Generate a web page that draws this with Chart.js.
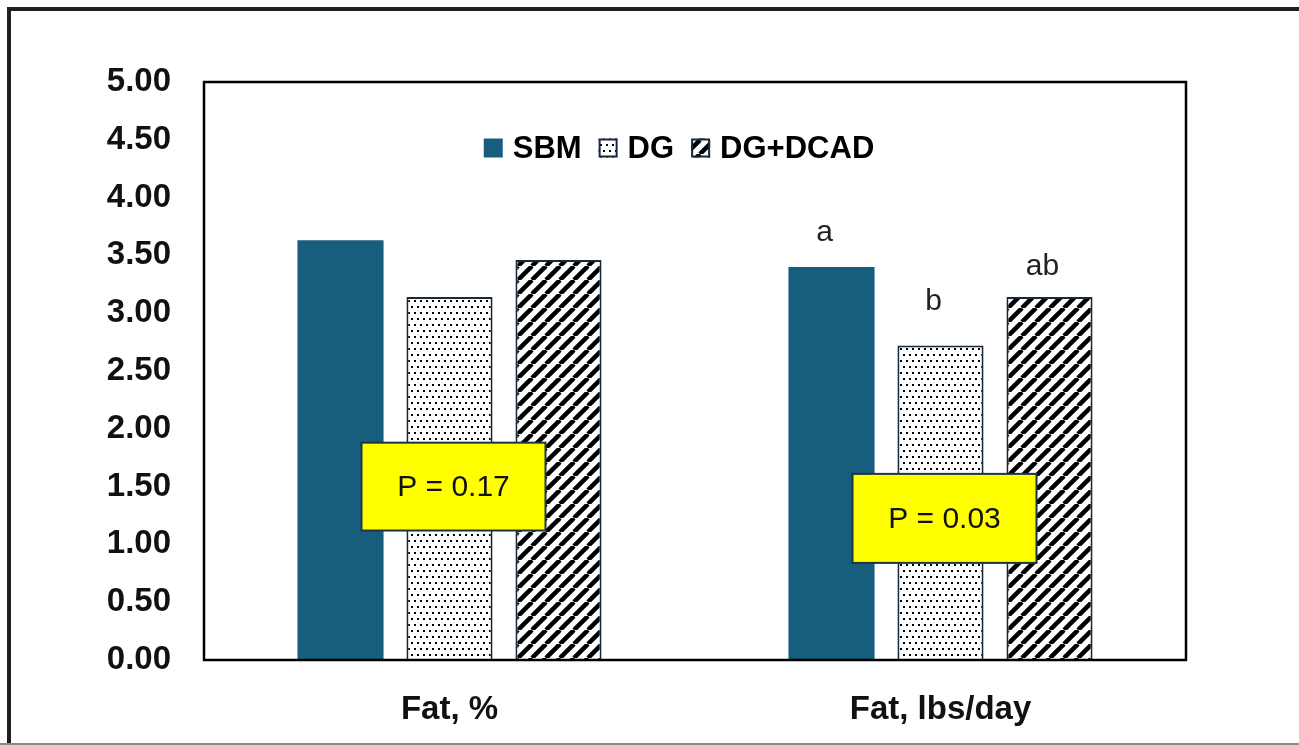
<!DOCTYPE html>
<html>
<head>
<meta charset="utf-8">
<script src="https://cdn.jsdelivr.net/npm/chart.js@4.4.1/dist/chart.umd.min.js"></script>
<style>
  html, body { margin: 0; padding: 0; background: #fff; }
  #wrap { width: 1299px; height: 745px; position: relative; }
</style>
</head>
<body>
<div id="wrap"><canvas id="chart"></canvas></div>
<script>
const categories = ['Fat, %', 'Fat, lbs/day'];
const seriesNames = ['SBM', 'DG', 'DG+DCAD'];
const sbmValues = [3.63, 3.40];
const dgValues = [3.14, 2.72];
const dcadValues = [3.46, 3.14];
const yTicks = [0, 0.5, 1, 1.5, 2, 2.5, 3, 3.5, 4, 4.5, 5];
const pLabels = ['P = 0.17', 'P = 0.03'];
const sigLetters = [['', '', ''], ['a', 'b', 'ab']];

const FONT = '"Liberation Sans", Arial, sans-serif';
const SBM_BLUE = '#175e7e';
const EDGE = '#16283a';

function dotPattern() {
    const c = document.createElement('canvas');
    c.width = 6; c.height = 12;
    const g = c.getContext('2d');
    g.fillStyle = '#fff';
    g.fillRect(0, 0, 6, 12);
    g.fillStyle = '#000';
    g.fillRect(0, 0, 2, 2);
    g.fillRect(3, 6, 2, 2);
    return g.createPattern(c, 'repeat');
}

function hatchPattern() {
    const s = 14;
    const c = document.createElement('canvas');
    c.width = s; c.height = s;
    const g = c.getContext('2d');
    g.fillStyle = '#fff';
    g.fillRect(0, 0, s, s);
    g.strokeStyle = '#000';
    g.lineWidth = 4.5;
    for (let k = -1; k <= 1; k++) {
        g.beginPath();
        g.moveTo(k * s, s);
        g.lineTo(k * s + s, 0);
        g.stroke();
    }
    return g.createPattern(c, 'repeat');
}

const fills = [SBM_BLUE, dotPattern(), hatchPattern()];

// frame around the whole picture
const framePlugin = {
    id: 'frame',
    beforeDraw(chart) {
        const ctx = chart.ctx;
        ctx.save();
        ctx.fillStyle = '#fff';
        ctx.fillRect(0, 0, chart.width, chart.height);
        ctx.fillStyle = '#231f20';
        ctx.fillRect(7, 7, chart.width - 7, 4);
        ctx.fillRect(7, 7, 4, chart.height - 7);
        ctx.fillStyle = '#8a8a8a';
        ctx.fillRect(0, chart.height - 2, chart.width, 2);
        ctx.restore();
    },
    afterDraw(chart) {
        const a = chart.chartArea;
        const ctx = chart.ctx;
        ctx.save();
        ctx.strokeStyle = '#000';
        ctx.lineWidth = 2.5;
        ctx.strokeRect(a.left, a.top, a.right - a.left, a.bottom - a.top);
        ctx.restore();
    }
};

// legend drawn inside the plot area
const innerLegend = {
    id: 'innerLegend',
    afterDatasetsDraw(chart) {
        const ctx = chart.ctx;
        const ds = chart.data.datasets;
        ctx.save();
        ctx.font = 'bold 31px ' + FONT;
        ctx.textBaseline = 'middle';
        const box = 19, gap = 10, spacing = 17;
        let total = 0;
        ds.forEach((d, i) => {
            total += box + gap + ctx.measureText(d.label).width;
            if (i < ds.length - 1) total += spacing;
        });
        let x = (chart.chartArea.left + chart.chartArea.right) / 2 - total / 2 - 16;
        const y = 148;
        ds.forEach(d => {
            ctx.fillStyle = d.backgroundColor;
            ctx.fillRect(x, y - box / 2, box, box);
            if (d.borderWidth) {
                ctx.strokeStyle = EDGE;
                ctx.lineWidth = 2;
                ctx.strokeRect(x + 1, y - box / 2 + 1, box - 2, box - 2);
            }
            x += box + gap;
            ctx.fillStyle = '#000';
            ctx.fillText(d.label, x, y + 1);
            x += ctx.measureText(d.label).width + spacing;
        });
        ctx.restore();
    }
};

// P value boxes and significance letters
const notes = {
    id: 'notes',
    afterDatasetsDraw(chart, args, opts) {
        const ctx = chart.ctx;
        const xs = chart.scales.x, ys = chart.scales.y;
        ctx.save();
        ctx.font = '30px ' + FONT;
        ctx.textAlign = 'center';
        ctx.textBaseline = 'middle';
        // letters
        sigLetters.forEach((row, ci) => {
            row.forEach((txt, di) => {
                if (!txt) return;
                const bar = chart.getDatasetMeta(di).data[ci];
                ctx.fillStyle = '#222';
                ctx.fillText(txt, bar.x - 7, ys.getPixelForValue(opts.letterY[di]));
            });
        });
        // P boxes
        pLabels.forEach((txt, ci) => {
            const cx = xs.getPixelForValue(ci) + 4;
            const top = ys.getPixelForValue(opts.boxTop[ci]);
            const bot = ys.getPixelForValue(opts.boxBottom[ci]);
            const w = 184;
            ctx.fillStyle = '#ffff00';
            ctx.fillRect(cx - w / 2, top, w, bot - top);
            ctx.strokeStyle = '#1c3446';
            ctx.lineWidth = 2;
            ctx.strokeRect(cx - w / 2, top, w, bot - top);
            ctx.fillStyle = '#111';
            ctx.fillText(txt, cx, (top + bot) / 2 + 1);
        });
        ctx.restore();
    }
};

new Chart(document.getElementById('chart'), {
    type: 'bar',
    data: {
        labels: categories,
        datasets: [
            { label: seriesNames[0], data: sbmValues, backgroundColor: fills[0], borderWidth: 0 },
            { label: seriesNames[1], data: dgValues, backgroundColor: fills[1], borderColor: EDGE, borderWidth: 2 },
            { label: seriesNames[2], data: dcadValues, backgroundColor: fills[2], borderColor: EDGE, borderWidth: 2 }
        ]
    },
    options: {
        responsive: true,
        maintainAspectRatio: false,
        animation: false,
        devicePixelRatio: 1,
        categoryPercentage: 0.666,
        barPercentage: 0.79,
        layout: { padding: { top: 82, right: 113, left: 0, bottom: 0 } },
        plugins: {
            legend: { display: false },
            tooltip: { enabled: false },
            notes: {
                letterY: [3.70, 3.10, 3.40],
                boxTop: [1.88, 1.61],
                boxBottom: [1.12, 0.84]
            }
        },
        scales: {
            x: {
                grid: { display: false, drawTicks: false },
                border: { display: false },
                ticks: { color: '#111', padding: 30, font: { family: FONT, size: 33, weight: 'bold' } },
                afterFit(scale) { scale.height = 85; }
            },
            y: {
                min: 0,
                max: 5,
                afterBuildTicks(scale) { scale.ticks = yTicks.map(v => ({ value: v })); },
                grid: { display: false, drawTicks: false },
                border: { display: false },
                ticks: {
                    color: '#111',
                    padding: 33,
                    font: { family: FONT, size: 33, weight: 'bold' },
                    callback: v => v.toFixed(2)
                },
                afterFit(scale) { scale.width = 204; }
            }
        }
    },
    plugins: [framePlugin, innerLegend, notes]
});
</script>
</body>
</html>
